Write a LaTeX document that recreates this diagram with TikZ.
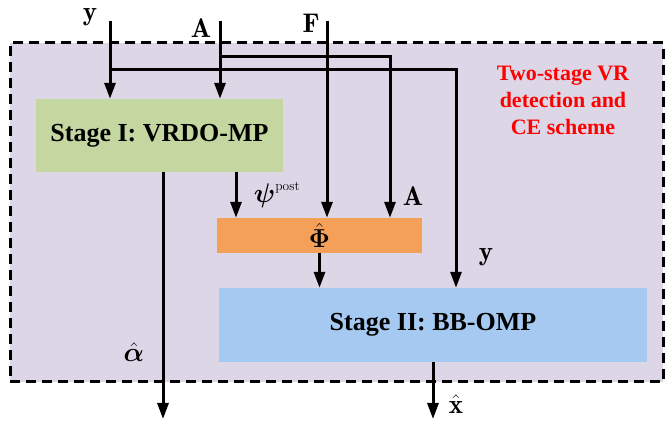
\RequirePackage{fix-cm}
\documentclass[tikz,border=0pt]{standalone}
\usepackage{amsmath,amssymb}
\usepackage{fontspec}
\usepackage{xcolor}
\usepackage{tikz}
\usetikzlibrary{arrows.meta,positioning,calc}

\newfontfamily\timesbf{Liberation Serif}
\definecolor{schemebg}{RGB}{221,214,230}
\definecolor{stageonefill}{RGB}{197,215,161}
\definecolor{phifill}{RGB}{244,160,88}
\definecolor{stagetwofill}{RGB}{165,201,241}

\begin{document}
\begin{tikzpicture}[x=1pt, y=-1pt,
    frame/.style={draw, dash pattern=on 10pt off 6pt, line width=3pt, fill=schemebg, minimum width=653pt, minimum height=339pt, inner sep=0pt},
    stage/.style={inner sep=0pt, align=center, font=\timesbf\bfseries\fontsize{26}{30}\selectfont},
    title/.style={inner sep=0pt, align=center, text=red, font=\timesbf\bfseries\fontsize{22}{27}\selectfont},
    lbl/.style={inner sep=0pt, font=\fontsize{27}{32}\selectfont},
    arr/.style={-{Triangle[length=16pt, width=11pt]}, line width=3pt},
]
    \useasboundingbox (0,0) rectangle (665,422);

    \node[frame] (scheme) at (336.5,212.5) {};
    \node[title] (caption) at (563,100) {Two-stage VR\\detection and\\CE scheme};

    \node[stage, fill=stageonefill, minimum width=247pt, minimum height=73pt] (s1)  at (159.5,135.5) {Stage I: VRDO-MP};
    \node[stage, fill=phifill, minimum width=205pt, minimum height=35pt]      (phi) at (319.5,235.5) {\fontsize{26}{30}\selectfont$\hat{\boldsymbol{\Phi}}$};
    \node[stage, fill=stagetwofill, minimum width=428pt, minimum height=74pt] (s2)  at (433,325)     {Stage II: BB-OMP};

    % inputs and bends
    \coordinate (yin)   at (110,21);
    \coordinate (ain)   at (220,21);
    \coordinate (fin)   at (327,21);
    \coordinate (abend) at (390,57);
    \coordinate (ybend) at (456,70);
    \coordinate (psicol) at (236,0);
    \coordinate (alphaend) at (163,419);
    \coordinate (xend)  at (433,419);

    \draw[arr] (yin) -- (yin |- s1.north);
    \draw[arr] (ain) -- (ain |- s1.north);
    \draw[arr] (fin) -- (fin |- phi.north);
    \draw[arr] (ain |- abend) -- (abend) -- (abend |- phi.north);
    \draw[arr] (yin |- ybend) -- (ybend) -- (ybend |- s2.north);
    \draw[arr] (s1.south -| psicol) -- (phi.north -| psicol);
    \draw[arr] (alphaend |- s1.south) -- (alphaend);
    \draw[arr] (phi.south) -- (phi.south |- s2.north);
    \draw[arr] (s2.south) -- (xend);

    % labels
    \node[lbl] (ytop)   at (90,17)   {$\mathbf{y}$};
    \node[lbl] (atop)   at (201,28)  {$\mathbf{A}$};
    \node[lbl] (ftop)   at (311,23)  {$\mathbf{F}$};
    \node[lbl] (aphi)   at (413,196) {$\mathbf{A}$};
    \node[lbl] (ytwo)   at (486,257) {$\mathbf{y}$};
    \node[lbl] (psilbl) at (277,195) {$\boldsymbol{\psi}^{\scriptscriptstyle\mathrm{post}}$};
    \node[lbl] (alpha)  at (134,352) {$\hat{\boldsymbol{\alpha}}$};
    \node[lbl] (xhat)   at (456,404) {$\hat{\mathbf{x}}$};
\end{tikzpicture}
\end{document}
